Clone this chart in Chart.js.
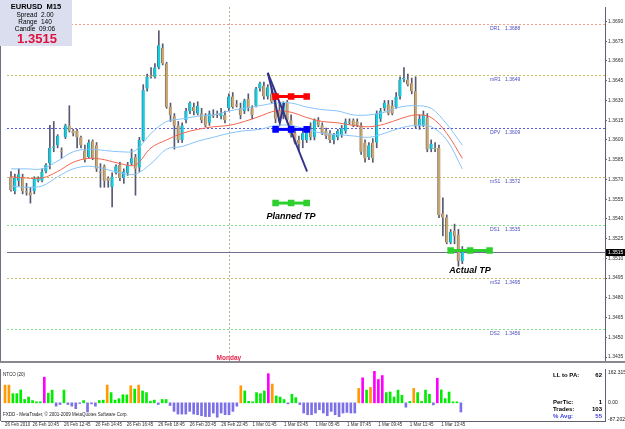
<!DOCTYPE html>
<html>
<head>
<meta charset="utf-8">
<script src="https://cdn.jsdelivr.net/npm/chart.js@4.4.1/dist/chart.umd.min.js"></script>
<style>
  body { margin: 0; background: #fff; }
  #wrap { position: relative; width: 625px; height: 429px; overflow: hidden; background: #fff; }
  canvas { position: absolute; left: 0; }
  #price { top: 0; }
  #ntco { top: 368px; }
</style>
</head>
<body>
<div id="wrap">
  <canvas id="price" width="625" height="368"></canvas>
  <canvas id="ntco" width="625" height="61"></canvas>
</div>
<script>
// EURUSD M15, bar 0 = 26 Feb 2010 09:00, bar 56 = Monday 1 Mar 00:00
const opens = [1.3572,1.3561,1.3569,1.3572,1.3561,1.3560,1.3561,1.3569,1.3569,1.3576,
  1.3582,1.3594,1.3596,1.3592,1.3602,1.3611,1.3607,1.3607,1.3602,1.3592,
  1.3587,1.3599,1.3596,1.3576,1.3580,1.3571,1.3564,1.3575,1.3581,1.3571,
  1.3575,1.3582,1.3587,1.3579,1.3600,1.3639,1.3649,1.3648,1.3655,1.3670,
  1.3658,1.3625,1.3618,1.3611,1.3600,1.3615,1.3622,1.3625,1.3620,1.3620,
  1.3618,1.3613,1.3619,1.3620,1.3618,1.3619,1.3624,1.3633,1.3627,1.3624,
  1.3622,1.3631,1.3624,1.3626,1.3639,1.3641,1.3633,1.3635,1.3629,1.3622,
  1.3619,1.3629,1.3615,1.3605,1.3600,1.3600,1.3600,1.3607,1.3602,1.3615,
  1.3611,1.3607,1.3605,1.3600,1.3602,1.3604,1.3607,1.3614,1.3615,1.3614,
  1.3611,1.3598,1.3587,1.3598,1.3598,1.3616,1.3624,1.3627,1.3626,1.3625,
  1.3633,1.3646,1.3646,1.3643,1.3637,1.3611,1.3611,1.3617,1.3593,1.3594,
  1.3594,1.3544,1.3541,1.3522,1.3531,1.3528,1.3508];
const highs = [1.3576,1.3574,1.3578,1.3574,1.3567,1.3564,1.3572,1.3572,1.3578,1.3582,
  1.3611,1.3614,1.3604,1.3594,1.3612,1.3626,1.3608,1.3608,1.3603,1.3596,
  1.3600,1.3600,1.3598,1.3582,1.3581,1.3572,1.3575,1.3581,1.3583,1.3578,
  1.3583,1.3593,1.3589,1.3602,1.3642,1.3650,1.3655,1.3658,1.3683,1.3673,
  1.3659,1.3628,1.3620,1.3614,1.3613,1.3624,1.3629,1.3628,1.3629,1.3624,
  1.3620,1.3622,1.3623,1.3622,1.3624,1.3622,1.3635,1.3636,1.3630,1.3628,
  1.3631,1.3635,1.3626,1.3640,1.3644,1.3644,1.3642,1.3639,1.3636,1.3628,
  1.3629,1.3630,1.3619,1.3609,1.3603,1.3608,1.3609,1.3613,1.3616,1.3617,
  1.3613,1.3609,1.3607,1.3605,1.3608,1.3611,1.3616,1.3616,1.3616,1.3616,
  1.3613,1.3600,1.3598,1.3601,1.3622,1.3624,1.3630,1.3630,1.3630,1.3636,
  1.3648,1.3655,1.3650,1.3647,1.3648,1.3619,1.3622,1.3620,1.3600,1.3598,
  1.3596,1.3556,1.3543,1.3532,1.3536,1.3532,1.3519];
const lows = [1.3561,1.3559,1.3565,1.3559,1.3558,1.3552,1.3559,1.3568,1.3568,1.3575,
  1.3578,1.3591,1.3594,1.3586,1.3601,1.3606,1.3603,1.3594,1.3594,1.3583,
  1.3586,1.3585,1.3576,1.3564,1.3564,1.3564,1.3549,1.3574,1.3569,1.3567,
  1.3573,1.3581,1.3558,1.3576,1.3599,1.3637,1.3647,1.3647,1.3654,1.3657,
  1.3624,1.3614,1.3593,1.3598,1.3598,1.3613,1.3620,1.3619,1.3619,1.3613,
  1.3610,1.3611,1.3617,1.3617,1.3616,1.3613,1.3622,1.3624,1.3625,1.3616,
  1.3620,1.3622,1.3616,1.3625,1.3637,1.3631,1.3631,1.3628,1.3613,1.3613,
  1.3616,1.3613,1.3602,1.3597,1.3591,1.3594,1.3598,1.3600,1.3600,1.3610,
  1.3604,1.3601,1.3598,1.3597,1.3600,1.3602,1.3605,1.3612,1.3610,1.3610,
  1.3589,1.3583,1.3585,1.3583,1.3594,1.3614,1.3622,1.3619,1.3619,1.3624,
  1.3631,1.3644,1.3641,1.3635,1.3609,1.3608,1.3610,1.3591,1.3591,1.3591,
  1.3541,1.3527,1.3521,1.3521,1.3521,1.3504,1.3506];
const closes = [1.3562,1.3571,1.3574,1.3561,1.3560,1.3558,1.3571,1.3571,1.3576,1.3581,
  1.3594,1.3595,1.3603,1.3591,1.3611,1.3607,1.3605,1.3602,1.3596,1.3585,
  1.3598,1.3586,1.3578,1.3575,1.3569,1.3569,1.3572,1.3580,1.3571,1.3576,
  1.3581,1.3586,1.3578,1.3600,1.3638,1.3648,1.3648,1.3655,1.3672,1.3658,
  1.3625,1.3619,1.3611,1.3600,1.3611,1.3622,1.3628,1.3622,1.3626,1.3615,
  1.3611,1.3620,1.3618,1.3619,1.3620,1.3615,1.3633,1.3625,1.3626,1.3619,
  1.3630,1.3624,1.3619,1.3639,1.3643,1.3633,1.3640,1.3629,1.3616,1.3614,
  1.3628,1.3615,1.3604,1.3598,1.3597,1.3605,1.3607,1.3602,1.3615,1.3611,
  1.3605,1.3603,1.3600,1.3604,1.3607,1.3609,1.3614,1.3613,1.3611,1.3611,
  1.3591,1.3586,1.3596,1.3586,1.3620,1.3622,1.3628,1.3620,1.3620,1.3633,
  1.3646,1.3647,1.3642,1.3637,1.3611,1.3616,1.3619,1.3593,1.3597,1.3593,
  1.3543,1.3541,1.3522,1.3530,1.3527,1.3508,1.3515];

// moving average + envelope, read every 4 bars
const maBars  = [0,4,8,12,16,20,24,28,32,36,40,44,48,52,56,60,64,68,72,76,80,84,88,92,96,100,104,108,112,116];
const maMid   = [1.3572,1.3571,1.3571,1.3576,1.3583,1.3586,1.3585,1.3582,1.3581,1.3594,1.3600,1.3605,1.3608,1.3610,1.3611,
                 1.3614,1.3618,1.3622,1.3621,1.3617,1.3614,1.3613,1.3611,1.3610,1.3612,1.3616,1.3619,1.3617,1.3605,1.3586];
const maUpper = [1.3578,1.3578,1.3578,1.3584,1.3591,1.3593,1.3592,1.3591,1.3592,1.3605,1.3614,1.3616,1.3618,1.3619,1.3622,
                 1.3624,1.3626,1.3628,1.3628,1.3625,1.3623,1.3622,1.3619,1.3619,1.3621,1.3625,1.3626,1.3624,1.3612,1.3596];
const maLower = [1.3565,1.3564,1.3565,1.3572,1.3578,1.3580,1.3578,1.3575,1.3574,1.3582,1.3593,1.3595,1.3599,1.3602,1.3605,
                 1.3607,1.3608,1.3611,1.3611,1.3608,1.3605,1.3604,1.3603,1.3602,1.3605,1.3609,1.3611,1.3610,1.3600,1.3578];

// NTCO(20) histogram
const ntco = [85,85,44,44,62,16,28,11,5,5,123,46,61,-16,-8,61,-8,-16,-28,-3,
  11,-44,-5,-16,11,13,85,49,13,20,39,38,82,66,85,57,49,8,13,-8,
  16,16,-13,-41,-54,-54,-54,-41,-54,-57,-62,-66,-66,-49,-69,-49,-57,-57,-41,-16,
  82,57,7,5,49,44,57,140,90,33,28,16,-5,41,25,-8,-49,-57,-57,-49,
  -33,-49,-62,-41,-57,-66,-49,-46,-49,-49,69,120,61,74,151,112,131,49,52,28,
  61,36,-21,7,69,49,7,61,41,-10,118,62,20,52,5,5,-44];
const ntcoMax = 162.3150;
const ntcoMin = -87.2021;

const priceTicks = [1.3690,1.3675,1.3660,1.3645,1.3630,1.3615,1.3600,1.3585,1.3570,
  1.3555,1.3540,1.3525,1.3510,1.3495,1.3480,1.3465,1.3450,1.3435];
const timeBars = [0,7,15,23,31,39,47,55,63,71,79,87,95,103,111];
const timeLabels = ["26 Feb 2010","26 Feb 10:45","26 Feb 12:45","26 Feb 14:45","26 Feb 16:45",
  "26 Feb 18:45","26 Feb 20:45","26 Feb 22:45","1 Mar 01:45","1 Mar 03:45","1 Mar 05:45",
  "1 Mar 07:45","1 Mar 09:45","1 Mar 11:45","1 Mar 13:45"];

const pivotNames  = ["DR1","mR1","DPV","mS1","DS1","mS2","DS2"];
const pivotValues = [1.3688,1.3649,1.3609,1.3572,1.3535,1.3495,1.3456];
const pivotColors = ["#f2a08c","#c4bc68","#5a5ae0","#c4bc68","#84e084","#c4bc68","#84e084"];

const lastPrice = 1.3515;
const mondayBar = 56;
const infoLines = ["Spread  2.00", "Range  140", "Candle  09:06"];
const statNames  = ["LL to PA:", "PerTic:", "Trades:", "% Avg:"];
const statValues = ["62", "1", "103", "55"];

// hand drawn objects
const tpBars      = [68, 72, 76];
const entryLevel  = 1.3633;
const stopLevel   = 1.3608;
const plannedTP   = 1.3552;
const actualBars  = [113, 118, 123];
const actualTP    = 1.3516;
const trendBars   = [66.0, 76.1];
const trendPrices = [1.3651, 1.3576];
const vBars       = [66.0, 69.1, 70.2];
const vPrices     = [1.3651, 1.3613, 1.3628];
const plannedLabel = { bar: 72, price: 1.3542 };
const actualLabel  = { bar: 118, price: 1.3501 };

// x range: bar spacing ~3.93px, plot 1..605
const xMin = -1.02, xMax = 152.67;
const yMin = 1.34320, yMax = 1.37010;

Chart.defaults.font.family = "'Liberation Sans', Arial, sans-serif";
Chart.defaults.animation = false;

const bars = opens.map((o, i) => i);
const isBull = i => closes[i] > opens[i];

const priceDecor = {
  id: 'priceDecor',
  beforeDatasetsDraw(chart) {
    const { ctx, chartArea: a, scales: { x, y } } = chart;
    ctx.save();
    ctx.lineWidth = 1;
    ctx.setLineDash([2, 2]);
    pivotValues.forEach((v, k) => {
      const py = Math.round(y.getPixelForValue(v)) + 0.5;
      ctx.strokeStyle = pivotColors[k];
      ctx.beginPath(); ctx.moveTo(a.left, py); ctx.lineTo(a.right, py); ctx.stroke();
    });
    const sx = Math.round(x.getPixelForValue(mondayBar)) + 0.5;
    ctx.strokeStyle = '#b4b08a';
    ctx.beginPath(); ctx.moveTo(sx, a.top); ctx.lineTo(sx, a.bottom); ctx.stroke();
    ctx.setLineDash([]);
    const by = Math.round(y.getPixelForValue(lastPrice)) + 0.5;
    ctx.strokeStyle = '#6e6e8e';
    ctx.beginPath(); ctx.moveTo(a.left, by); ctx.lineTo(a.right, by); ctx.stroke();
    ctx.restore();
  },
  afterDraw(chart) {
    const { ctx, chartArea: a, scales: { x, y } } = chart;
    ctx.save();
    // pivot captions
    ctx.font = "5px 'Liberation Sans'";
    ctx.fillStyle = '#4a4ac0';
    ctx.textBaseline = 'middle';
    ctx.textAlign = 'left';
    pivotValues.forEach((v, k) => {
      const py = y.getPixelForValue(v) + 4.5;
      ctx.fillText(pivotNames[k], a.right - 115, py);
      ctx.fillText(v.toFixed(4), a.right - 100, py);
    });
    // TP captions
    ctx.fillStyle = '#000';
    ctx.font = "italic bold 9px 'Liberation Sans'";
    ctx.textAlign = 'center';
    ctx.fillText('Planned TP', x.getPixelForValue(plannedLabel.bar), y.getPixelForValue(plannedLabel.price));
    ctx.fillText('Actual TP', x.getPixelForValue(actualLabel.bar), y.getPixelForValue(actualLabel.price));
    // day name
    ctx.fillStyle = '#e8244c';
    ctx.font = "bold 6.5px 'Liberation Sans'";
    ctx.fillText('Monday', x.getPixelForValue(mondayBar), a.bottom - 3);
    // frame
    ctx.fillStyle = '#707080';
    ctx.fillRect(0, a.top, 1, a.bottom - a.top);
    ctx.fillStyle = '#888890';
    ctx.fillRect(0, a.bottom, chart.width, 2);
    // bid box on the axis
    const by = Math.round(y.getPixelForValue(lastPrice));
    ctx.fillStyle = '#000';
    ctx.fillRect(a.right + 1, by - 3, 19, 7);
    ctx.fillStyle = '#fff';
    ctx.font = "5px 'Liberation Sans'";
    ctx.textAlign = 'left';
    ctx.fillText(lastPrice.toFixed(4), a.right + 3, by + 0.5);
    // info box
    ctx.fillStyle = '#dadeef';
    ctx.fillRect(0, 0, 72, 46);
    ctx.fillStyle = '#000';
    ctx.textAlign = 'center';
    ctx.font = "bold 7.5px 'Liberation Sans'";
    ctx.fillText('EURUSD  M15', 36, 6.5);
    ctx.font = "6.5px 'Liberation Sans'";
    infoLines.forEach((t, k) => ctx.fillText(t, 35, 15 + k * 7));
    ctx.fillStyle = '#e0103c';
    ctx.font = "bold 13px 'Liberation Sans'";
    ctx.fillText(lastPrice.toFixed(4), 37, 39);
    ctx.restore();
  }
};

new Chart(document.getElementById('price'), {
  type: 'bar',
  data: {
    datasets: [
      {
        label: 'wicks',
        data: bars.map(i => ({ x: i, y: [lows[i], highs[i]] })),
        backgroundColor: '#56596f',
        barThickness: 1,
        grouped: false,
        order: 5
      },
      {
        label: 'bodies',
        data: bars.map(i => ({ x: i, y: [opens[i], closes[i]] })),
        backgroundColor: bars.map(i => isBull(i) ? '#14cfe0' : '#c9a877'),
        borderColor: bars.map(i => isBull(i) ? '#3f7f9a' : '#857562'),
        borderWidth: { left: 1, right: 0, top: 0, bottom: 0 },
        borderSkipped: false,
        barThickness: 3,
        minBarLength: 1,
        grouped: false,
        order: 4
      },
      {
        type: 'line', label: 'upper',
        data: maBars.map((b, k) => ({ x: b, y: maUpper[k] })),
        borderColor: '#86c4fa', borderWidth: 1, pointRadius: 0, tension: 0.35, order: 3
      },
      {
        type: 'line', label: 'mid',
        data: maBars.map((b, k) => ({ x: b, y: maMid[k] })),
        borderColor: '#f26650', borderWidth: 1, pointRadius: 0, tension: 0.35, order: 3
      },
      {
        type: 'line', label: 'lower',
        data: maBars.map((b, k) => ({ x: b, y: maLower[k] })),
        borderColor: '#86c4fa', borderWidth: 1, pointRadius: 0, tension: 0.35, order: 3
      },
      {
        type: 'line', label: 'trend',
        data: trendBars.map((b, k) => ({ x: b, y: trendPrices[k] })),
        borderColor: '#33338a', borderWidth: 2, pointRadius: 0, order: 1
      },
      {
        type: 'line', label: 'swing',
        data: vBars.map((b, k) => ({ x: b, y: vPrices[k] })),
        borderColor: '#33338a', borderWidth: 2, pointRadius: 0, order: 1
      },
      {
        type: 'line', label: 'entry',
        data: tpBars.map(b => ({ x: b, y: entryLevel })),
        borderColor: '#ff0000', backgroundColor: '#ff0000', borderWidth: 3,
        pointStyle: 'rect', pointRadius: 2.5, order: 0
      },
      {
        type: 'line', label: 'stop',
        data: tpBars.map(b => ({ x: b, y: stopLevel })),
        borderColor: '#0000ff', backgroundColor: '#0000ff', borderWidth: 3,
        pointStyle: 'rect', pointRadius: 2.5, order: 0
      },
      {
        type: 'line', label: 'planned',
        data: tpBars.map(b => ({ x: b, y: plannedTP })),
        borderColor: '#2ed02e', backgroundColor: '#2ed02e', borderWidth: 3,
        pointStyle: 'rect', pointRadius: 2.5, order: 0
      },
      {
        type: 'line', label: 'actual',
        data: actualBars.map(b => ({ x: b, y: actualTP })),
        borderColor: '#2ed02e', backgroundColor: '#2ed02e', borderWidth: 3,
        pointStyle: 'rect', pointRadius: 2.5, order: 0
      }
    ]
  },
  options: {
    responsive: false,
    animation: false,
    layout: { padding: { left: 1, top: 0, right: 0, bottom: 2 } },
    plugins: { legend: { display: false }, tooltip: { enabled: false } },
    scales: {
      x: { type: 'linear', min: xMin, max: xMax, offset: false, display: false },
      y: {
        type: 'linear', position: 'right', min: yMin, max: yMax, bounds: 'data',
        afterBuildTicks: s => { s.ticks = priceTicks.map(v => ({ value: v })); },
        afterFit: s => { s.width = 20; s.paddingTop = 0; s.paddingBottom = 0; },
        grid: { display: true, drawOnChartArea: false, drawTicks: true, tickLength: 2, color: '#606070' },
        border: { display: true, color: '#606070' },
        ticks: { padding: 1, font: { size: 5 }, color: '#303030', callback: v => v.toFixed(4) }
      }
    }
  },
  plugins: [priceDecor]
});

const ntcoColor = v => v < 0 ? '#7c70e6' : v >= 100 ? '#ff00ff' : v >= 68 ? '#ff9a00' : '#00ec00';

const ntcoDecor = {
  id: 'ntcoDecor',
  afterDraw(chart) {
    const { ctx, chartArea: a, scales: { y } } = chart;
    ctx.save();
    ctx.fillStyle = '#707080';
    ctx.fillRect(0, a.top, 1, a.bottom - a.top);
    ctx.fillStyle = '#202020';
    ctx.textBaseline = 'middle';
    ctx.textAlign = 'left';
    ctx.font = "4.5px 'Liberation Sans'";
    ctx.fillText('NTCO (20)', 3, a.top + 6);
    ctx.fillText('FXDD - MetaTrader, \u00a9 2001-2009 MetaQuotes Software Corp.', 3, a.bottom - 6);
    ctx.font = "5px 'Liberation Sans'";
    ctx.fillText(ntcoMax.toFixed(4), a.right + 3, y.getPixelForValue(ntcoMax) + 4);
    ctx.fillText('0.00', a.right + 3, y.getPixelForValue(0));
    ctx.fillText(ntcoMin.toFixed(4), a.right + 3, y.getPixelForValue(ntcoMin) - 1);
    const rows = [a.top + 6, a.top + 33.7, a.top + 40.3, a.top + 47];
    ctx.font = "bold 6px 'Liberation Sans'";
    statNames.forEach((t, k) => {
      ctx.fillStyle = k === 3 ? '#3c3ce0' : '#000';
      ctx.textAlign = 'left';
      ctx.fillText(t, a.right - 52, rows[k]);
      ctx.textAlign = 'right';
      ctx.fillText(statValues[k], a.right - 3, rows[k]);
    });
    ctx.restore();
  }
};

new Chart(document.getElementById('ntco'), {
  type: 'bar',
  data: {
    datasets: [{
      label: 'NTCO',
      data: ntco.map((v, i) => ({ x: i, y: v })),
      backgroundColor: ntco.map(ntcoColor),
      barThickness: 2,
      grouped: false
    }]
  },
  options: {
    responsive: false,
    animation: false,
    layout: { padding: { left: 1, top: 1, right: 0, bottom: 0 } },
    plugins: { legend: { display: false }, tooltip: { enabled: false } },
    scales: {
      x: {
        type: 'linear', min: xMin, max: xMax, offset: false, position: 'bottom',
        afterBuildTicks: s => { s.ticks = timeBars.map(v => ({ value: v })); },
        afterFit: s => { s.height = 8; s.paddingLeft = 0; s.paddingRight = 0; },
        grid: { display: true, drawOnChartArea: false, drawTicks: true, tickLength: 1, color: '#606070' },
        border: { display: true, color: '#606070' },
        ticks: {
          autoSkip: false, maxRotation: 0, align: 'start', padding: 0,
          font: { size: 4.5 }, color: '#303030',
          callback: (v, k) => timeLabels[k]
        }
      },
      y: {
        type: 'linear', position: 'right', min: ntcoMin, max: ntcoMax, bounds: 'data',
        afterFit: s => { s.width = 20; s.paddingTop = 0; s.paddingBottom = 0; },
        ticks: { display: false },
        grid: { display: false },
        border: { display: true, color: '#606070' }
      }
    }
  },
  plugins: [ntcoDecor]
});
</script>
</body>
</html>
